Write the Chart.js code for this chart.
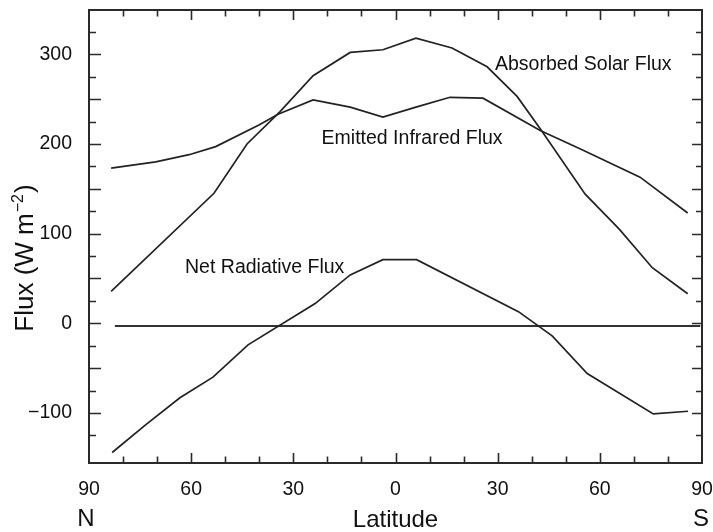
<!DOCTYPE html>
<html>
<head>
<meta charset="utf-8">
<script src="https://cdn.jsdelivr.net/npm/chart.js@4"></script>
<style>
  html, body { margin: 0; padding: 0; background: #ffffff; }
  canvas { display: block; }
</style>
</head>
<body>
<canvas id="c" width="713" height="532"></canvas>
<script>
// ---- data (latitude: positive = North, negative = South) ----
const latSolar = [83.5, 53.3, 43.6, 33.9, 24.2, 13.3, 3.7, -6, -16.6, -26.9, -35.7, -42.5, -55.7, -65.7, -75.4, -85.8];
const absorbedSolar = [35.5, 145, 200, 236, 276, 302, 305, 318, 307, 286, 253, 217, 144, 105, 62, 33];

const latIR = [83.5, 70.4, 60.6, 52.8, 40.1, 34.5, 24.2, 13.3, 3.7, -6, -16, -25.7, -42.5, -55.1, -71.8, -85.8];
const emittedIR = [173, 180, 188, 197, 221, 233, 249, 241, 230, 241, 252, 251, 215, 193, 163, 123];

const latNet = [83.2, 73.3, 63.3, 53.6, 43.3, 23.6, 13.3, 3.7, -6.2, -36.1, -46, -56.3, -75.7, -85.9];
const netRadiative = [-144, -113, -83, -60, -24, 22, 54, 71, 71, 13, -14, -56, -101, -98];

const latZero = [82.4, -89.5];
const zeroLine = [-3, -3];

const xTickValues = [90, 60, 30, 0, -30, -60, -90];
const yTickValues = [-100, 0, 100, 200, 300];

const curveLabels = [
  { text: 'Absorbed Solar Flux', lat: -29.2, flux: 288 },
  { text: 'Emitted Infrared Flux', lat: 21.7, flux: 205.5 },
  { text: 'Net Radiative Flux', lat: 61.8, flux: 62.2 }
];

const FONT = '"Liberation Sans", Arial, Helvetica, sans-serif';
const INK = '#111111';
const LINE = '#222222';

function pts(xs, ys) { return xs.map((x, i) => ({ x: x, y: ys[i] })); }

const framePlugin = {
  id: 'frameAndText',
  afterDatasetsDraw(chart) {
    const ctx = chart.ctx;
    const xs = chart.scales.x, ys = chart.scales.y;
    const a = chart.chartArea;
    ctx.save();
    ctx.strokeStyle = '#2a2a2a';
    ctx.lineCap = 'butt';
    // ticks on x (every 10 degrees)
    ctx.lineWidth = 1.6;
    for (let v = -80; v <= 80; v += 10) {
      const px = Math.round(xs.getPixelForValue(v)) + 0.5;
      const len = (v % 30 === 0) ? 10 : 6.5;
      ctx.beginPath();
      ctx.moveTo(px, a.bottom); ctx.lineTo(px, a.bottom - len);
      ctx.moveTo(px, a.top); ctx.lineTo(px, a.top + len);
      ctx.stroke();
    }
    // ticks on y (every 25)
    for (let v = -125; v <= 325; v += 25) {
      const py = Math.round(ys.getPixelForValue(v)) + 0.5;
      const major = (v % 50 === 0);
      ctx.beginPath();
      ctx.moveTo(a.left, py); ctx.lineTo(a.left + (major ? 12 : 7), py);
      ctx.moveTo(a.right, py); ctx.lineTo(a.right - (major ? 10 : 6), py);
      ctx.stroke();
    }
    // frame
    ctx.lineWidth = 2;
    ctx.strokeRect(a.left, a.top, a.right - a.left, a.bottom - a.top);

    // curve labels
    ctx.fillStyle = INK;
    ctx.font = '19.5px ' + FONT;
    ctx.textAlign = 'left';
    ctx.textBaseline = 'middle';
    curveLabels.forEach(l => {
      ctx.fillText(l.text, xs.getPixelForValue(l.lat), ys.getPixelForValue(l.flux));
    });

    // N and S under the axis ends
    ctx.font = '24px ' + FONT;
    ctx.textAlign = 'center';
    ctx.fillText('N', 86, 519);
    ctx.fillText('S', 701, 519);

    // y-axis title with superscript
    ctx.translate(24, 259);
    ctx.rotate(-Math.PI / 2);
    ctx.textAlign = 'left';
    ctx.textBaseline = 'alphabetic';
    const main = '26px ' + FONT, sup = '16px ' + FONT;
    ctx.font = main; const w1 = ctx.measureText('Flux (W m').width;
    ctx.font = sup; const w2 = ctx.measureText('\u22122').width;
    ctx.font = main; const w3 = ctx.measureText(')').width;
    let x0 = -(w1 + w2 + w3) / 2;
    const base = 9;
    ctx.font = main; ctx.fillText('Flux (W m', x0, base);
    ctx.font = sup; ctx.fillText('\u22122', x0 + w1 + 1, base - 10);
    ctx.font = main; ctx.fillText(')', x0 + w1 + w2 + 2, base);
    ctx.restore();
  }
};

const ds = (data) => ({
  data: data, borderColor: LINE, borderWidth: 1.7, pointRadius: 0,
  tension: 0, fill: false
});

function zeroPad(s) { s.paddingTop = 0; s.paddingBottom = 0; s.paddingLeft = 0; s.paddingRight = 0; }

new Chart(document.getElementById('c'), {
  type: 'line',
  data: {
    datasets: [
      ds(pts(latSolar, absorbedSolar)),
      ds(pts(latIR, emittedIR)),
      ds(pts(latNet, netRadiative)),
      Object.assign(ds(pts(latZero, zeroLine)), { borderWidth: 2, borderColor: '#333333' })
    ]
  },
  options: {
    responsive: false,
    animation: false,
    devicePixelRatio: 1,
    layout: { padding: { top: 10, right: 11, left: 0, bottom: 0 } },
    plugins: { legend: { display: false }, tooltip: { enabled: false } },
    scales: {
      x: {
        type: 'linear', reverse: true, min: -90, max: 90,
        grid: { display: false }, border: { display: false },
        afterBuildTicks: s => { s.ticks = xTickValues.map(v => ({ value: v })); },
        afterFit: s => { s.height = 69; zeroPad(s); },
        ticks: {
          autoSkip: false, maxRotation: 0, padding: 7, color: INK,
          font: { family: FONT, size: 19.5 },
          callback: v => String(Math.abs(v))
        },
        title: {
          display: true, text: 'Latitude', color: INK,
          font: { family: FONT, size: 24, lineHeight: 1.0 },
          padding: { top: 0, bottom: 0 }
        }
      },
      y: {
        type: 'linear', min: -155.7, max: 349.3,
        grid: { display: false }, border: { display: false },
        afterBuildTicks: s => { s.ticks = yTickValues.map(v => ({ value: v })); },
        afterFit: s => { s.width = 89; zeroPad(s); },
        ticks: {
          autoSkip: false, padding: 9, color: INK,
          font: { family: FONT, size: 19.5 },
          callback: v => (v < 0 ? '\u2212' + Math.abs(v) : String(v))
        }
      }
    }
  },
  plugins: [framePlugin]
});
</script>
</body>
</html>
